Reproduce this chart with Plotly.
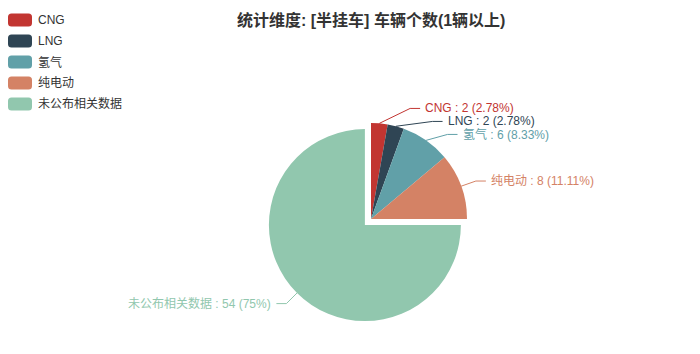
import math
import plotly.graph_objects as go

title_text = "统计维度: [半挂车] 车辆个数(1辆以上)"
categories = ["CNG", "LNG", "氢气", "纯电动", "未公布相关数据"]
values = [2, 2, 6, 8, 54]
colors = ["#c23531", "#2f4554", "#61a0a8", "#d48265", "#91c7ae"]
pulled = [False, False, False, False, True]

W, H = 700, 354
CX, CY = 371, 219     # pie centre in px
R = 96                # pie radius in px
PULL = 0.09
FONT = "Liberation Sans, Noto Sans CJK SC, sans-serif"


def px(x):
    return x / W


def py(y):
    return 1 - y / H


half = R * (1 + PULL)
domain_x = [px(CX - half), px(CX + half)]
domain_y = [py(CY + half), py(CY - half)]

fig = go.Figure(go.Pie(
    labels=categories, values=values, sort=False, direction="clockwise",
    rotation=0, marker=dict(colors=colors, line=dict(width=0)),
    textinfo="none", pull=[PULL if p else 0 for p in pulled],
    domain=dict(x=domain_x, y=domain_y), showlegend=False,
    hoverinfo="label+value+percent",
))

# ---- labels with leader lines (ECharts-like layout) ----
total = sum(values)
LEN1, LEN2, GAP = 15, 10, 13
items = []
cum = 0
for i, v in enumerate(values):
    frac = v / total
    mid = (cum + frac / 2) * 2 * math.pi
    cum += frac
    dx, dy = math.sin(mid), -math.cos(mid)
    off = PULL * R if pulled[i] else 0
    cx, cy = CX + dx * off, CY + dy * off
    pct = f"{round(v / total * 100, 2):g}"
    items.append(dict(
        i=i, cx=cx, cy=cy, ex=cx + dx * R, ey=cy + dy * R,
        x1=cx + dx * (R + LEN1), y=cy + dy * (R + LEN1),
        side=1 if dx >= 0 else -1,
        text=f"{categories[i]} : {v} ({pct}%)",
    ))

for side in (1, -1):
    group = sorted([it for it in items if it["side"] == side], key=lambda d: d["y"])
    shifted = False
    prev = -1e9
    for it in group:
        if it["y"] < prev + GAP:
            it["y"] = prev + GAP
            shifted = True
        prev = it["y"]
    for it in group:
        if shifted:
            ddy = abs(it["y"] - it["cy"])
            rr = R + LEN1 + LEN2
            it["x2"] = it["cx"] + side * math.sqrt(max(rr * rr - ddy * ddy, 0))
            it["x1"] = it["x2"] - side * LEN2
        else:
            it["x2"] = it["x1"] + side * LEN2

shapes = []
annotations = []
for it in items:
    c = colors[it["i"]]
    path = (f"M {px(it['ex'])},{py(it['ey'])} L {px(it['x1'])},{py(it['y'])} "
            f"L {px(it['x2'])},{py(it['y'])}")
    shapes.append(dict(type="path", xref="paper", yref="paper", path=path,
                       line=dict(color=c, width=1)))
    annotations.append(dict(
        x=px(it["x2"] + it["side"] * 4), y=py(it["y"]), xref="paper", yref="paper",
        text=it["text"], showarrow=False, borderpad=0,
        xanchor="left" if it["side"] > 0 else "right", yanchor="middle",
        font=dict(family=FONT, size=12, color=c),
    ))

# ---- legend (ECharts style rounded swatches) ----
LX0, LX1, LY0, LSTEP, LH, RAD = 8, 32, 20, 21, 13, 3.5
for i, cat in enumerate(categories):
    yc = LY0 + i * LSTEP
    y0, y1 = yc - LH / 2, yc + LH / 2
    p = (f"M {px(LX0 + RAD)},{py(y0)} L {px(LX1 - RAD)},{py(y0)} "
         f"Q {px(LX1)},{py(y0)} {px(LX1)},{py(y0 + RAD)} "
         f"L {px(LX1)},{py(y1 - RAD)} Q {px(LX1)},{py(y1)} {px(LX1 - RAD)},{py(y1)} "
         f"L {px(LX0 + RAD)},{py(y1)} Q {px(LX0)},{py(y1)} {px(LX0)},{py(y1 - RAD)} "
         f"L {px(LX0)},{py(y0 + RAD)} Q {px(LX0)},{py(y0)} {px(LX0 + RAD)},{py(y0)} Z")
    shapes.append(dict(type="path", xref="paper", yref="paper", path=p,
                       fillcolor=colors[i], line=dict(width=0)))
    annotations.append(dict(
        x=px(36), y=py(yc), xref="paper", yref="paper", text=cat, showarrow=False,
        xanchor="left", yanchor="middle", font=dict(family=FONT, size=12, color="#333"),
    ))

annotations.append(dict(
    x=px(371), y=py(20), xref="paper", yref="paper", text=f"<b>{title_text}</b>",
    showarrow=False, xanchor="center", yanchor="middle",
    font=dict(family=FONT, size=16, color="#333"),
))

fig.update_layout(
    width=W, height=H, margin=dict(l=0, r=0, t=0, b=0),
    paper_bgcolor="white", plot_bgcolor="white",
    shapes=shapes, annotations=annotations,
)

fig.write_html("out.html")
